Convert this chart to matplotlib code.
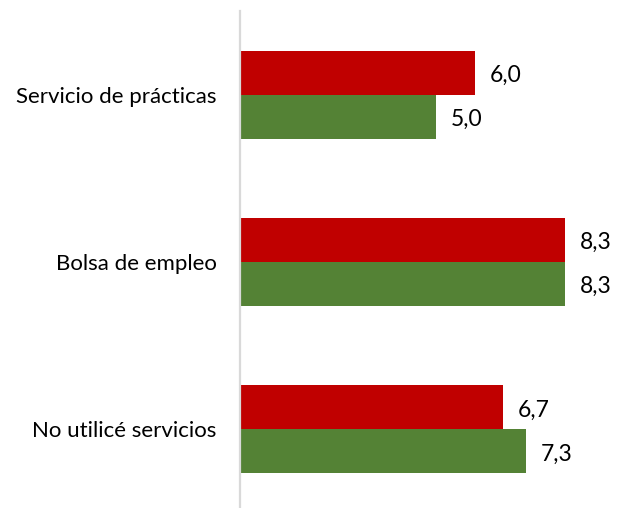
import matplotlib.pyplot as plt
import numpy as np

plt.rcParams['font.family'] = ['Lato', 'DejaVu Sans']

categories = ["Servicio de prácticas", "Bolsa de empleo", "No utilicé servicios"]
red_values = [6.0, 8.3, 6.7]
green_values = [5.0, 8.3, 7.3]

RED = "#C00000"
GREEN = "#548235"

fig = plt.figure(figsize=(6.19, 5.08), dpi=100)
ax = fig.add_axes([240 / 619, 1 - 507 / 508, 379 / 619, 496 / 508])

y = np.arange(len(categories))
h = 0.263
ax.barh(y - h / 2, red_values, height=h, color=RED)
ax.barh(y + h / 2, green_values, height=h, color=GREEN)

# value labels in Spanish decimal format
for yi, v in zip(y - h / 2, red_values):
    ax.text(v + 0.38, yi + 0.018, f"{v:.1f}".replace(".", ","), va="center", ha="left", fontsize=16.5)
for yi, v in zip(y + h / 2, green_values):
    ax.text(v + 0.38, yi + 0.018, f"{v:.1f}".replace(".", ","), va="center", ha="left", fontsize=16.5)

ax.set_xlim(0, 379 / 39.2)
ax.set_ylim(2.467, -0.5)
ax.set_yticks(y)
ax.set_yticklabels(categories, fontsize=16)
ax.tick_params(axis="y", length=0, pad=17)
ax.set_xticks([])
for side in ["top", "right", "bottom"]:
    ax.spines[side].set_visible(False)
ax.spines["left"].set_color("#D9D9D9")
ax.spines["left"].set_linewidth(1.6)

fig.savefig("out.png", dpi=100)
